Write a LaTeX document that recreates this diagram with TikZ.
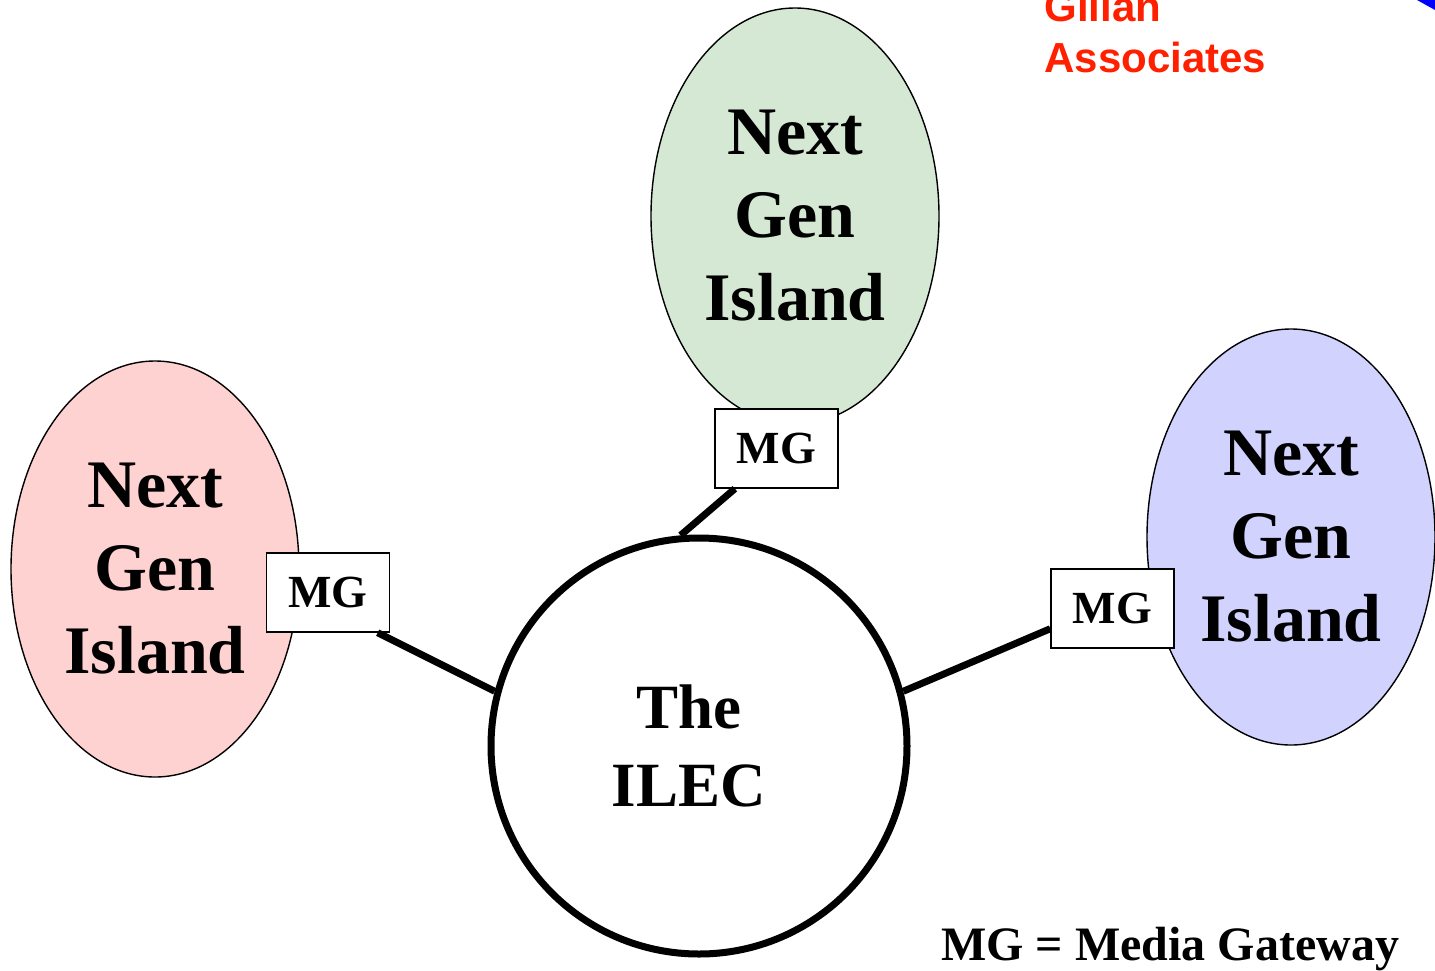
\documentclass[tikz,border=0pt]{standalone}
\usepackage{fontspec}
\setmainfont{Liberation Serif}
\newfontfamily\logofont{Liberation Sans}
\usetikzlibrary{shapes.geometric}

\definecolor{islandgreen}{RGB}{212,232,212}
\definecolor{islandpink}{RGB}{255,210,210}
\definecolor{islandblue}{RGB}{210,210,255}
\definecolor{logored}{RGB}{255,32,0}

\begin{document}
\begin{tikzpicture}[x=0.5pt,y=-0.5pt]
      \useasboundingbox (0,0) rectangle (1435,970);

      \begin{scope}[every node/.style={ellipse, draw, line width=0.7pt, inner sep=0pt,
          minimum width=144pt, minimum height=208pt, align=center,
          font=\fontsize{34}{41.5}\selectfont\bfseries}]
        \node[fill=islandgreen] (green) at (795,216) {Next\\Gen\\Island};
        \node[fill=islandpink]  (pink)  at (155,569) {Next\\Gen\\Island};
        \node[fill=islandblue]  (blue)  at (1291,537) {Next\\Gen\\Island};
      \end{scope}

      \node[circle, draw, line width=3.5pt, minimum size=208pt, inner sep=0pt, align=center,
        font=\fontsize{31.5}{39}\selectfont\bfseries] (ilec) at (699,746)
        {The\hspace*{10pt}\\ILEC\hspace*{10pt}};

      \begin{scope}[every node/.style={draw, fill=white, line width=0.7pt,
          minimum width=61.5pt, minimum height=39.5pt, inner sep=0pt,
          font=\fontsize{23}{28}\selectfont\bfseries}]
        \node (mgtop)   at (776.5,448.5) {MG};
        \node (mgleft)  at (328,592.5)   {MG};
        \node (mgright) at (1112.5,608.5) {MG};
      \end{scope}

      \begin{scope}[line width=3.5pt]
        \path (mgtop.224)   edge (ilec.95);
        \path (mgleft.-39)  edge (ilec.165);
        \path (mgright.198) edge (ilec.15);
      \end{scope}

      \node[anchor=base, inner sep=0pt, font=\fontsize{24}{28}\selectfont\bfseries]
        (legend) at (1170,960) {MG = Media Gateway};

      \node[anchor=south west, inner sep=0pt, align=left, text=logored,
        font=\logofont\fontsize{21}{25.5}\selectfont\bfseries]
        (logo) at (1044,73) {Gillan\\Associates};
      \fill[blue] (1417,0) -- (1435,0) -- (1435,10) -- cycle;

    \end{tikzpicture}
\end{document}
